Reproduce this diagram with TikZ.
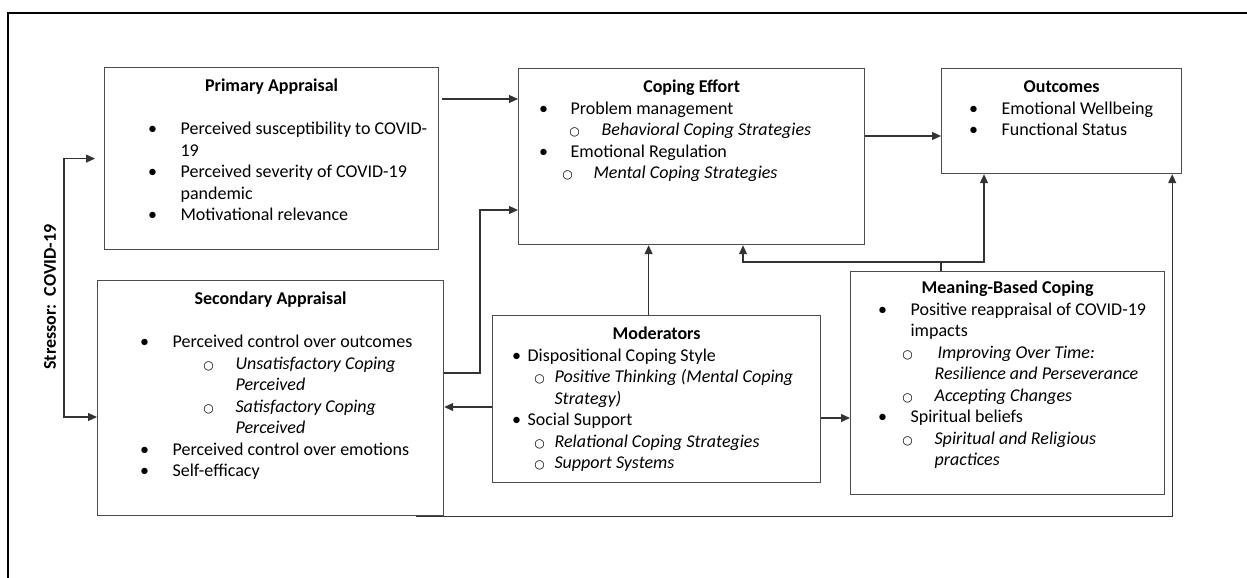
\documentclass[tikz,border=0pt]{standalone}
\usepackage{fontspec}
\setmainfont{Carlito}
\newfontfamily\symfont{DejaVu Sans}
\usetikzlibrary{arrows.meta,calc}

\newdimen\pxu \pxu=0.5pt
\newcommand{\boxcontent}[3]{\parbox[t][#2\pxu][t]{#1\pxu}{\baselineskip=21.5\pxu\lineskiplimit=-30pt\lineskip=0pt\parindent=0pt #3}}
\newcommand{\ttl}[2][24]{\makebox[\linewidth]{\rule{0pt}{#1\pxu}\bfseries #2}\par}
\newcommand{\blankline}{\mbox{}\par}
\newcommand{\opendot}{{\symfont\fontsize{6}{6}\selectfont ○}}
\newcommand{\bitem}[3]{\hspace*{#1\pxu}\makebox[0pt]{\textbullet}\hspace*{\dimexpr#2\pxu-#1\pxu\relax}#3\par}
\newcommand{\citem}[3]{\hspace*{#1\pxu}\makebox[0pt]{\opendot}\hspace*{\dimexpr#2\pxu-#1\pxu\relax}\textit{#3}\par}
\newcommand{\cont}[2]{\hspace*{#1\pxu}#2\par}

\begin{document}
\begin{tikzpicture}[x=0.5pt, y=-0.5pt,
		font=\fontsize{9}{10.75}\selectfont,
		panel/.style={draw=black!70, line width=0.6pt, inner sep=0pt, anchor=north west},
		arr/.style={-{Triangle[length=4.5pt,width=4pt]}, draw=black!80, line width=0.55pt},
		link/.style={draw=black!80, line width=0.55pt}]
	\useasboundingbox (0,0) rectangle (1247,578);
	\draw[line width=1pt] (8,578) -- (8,13) -- (1247,13);

	\node[panel] (prim) at (104,67) {\boxcontent{334}{182}{%
		\ttl{Primary Appraisal}
		\blankline
		\bitem{48}{76}{Perceived susceptibility to COVID-}
		\cont{76}{19}
		\bitem{48}{76}{Perceived severity of COVID-19}
		\cont{76}{pandemic}
		\bitem{48}{76}{Motivational relevance}}};
	\node[panel] (sec) at (97,280) {\boxcontent{346}{235}{%
		\ttl{Secondary Appraisal}
		\blankline
		\bitem{47}{75}{Perceived control over outcomes}
		\citem{111}{138}{Unsatisfactory Coping}
		\cont{138}{\textit{Perceived}}
		\citem{111}{138}{Satisfactory Coping}
		\cont{138}{\textit{Perceived}}
		\bitem{47}{75}{Perceived control over emotions}
		\bitem{47}{75}{Self-efficacy}}};
	\node[panel] (cope) at (518,68) {\boxcontent{346}{176}{%
		\ttl{Coping Effort}
		\bitem{25}{52}{Problem management}
		\citem{56}{83}{Behavioral Coping Strategies}
		\bitem{25}{52}{Emotional Regulation}
		\citem{49}{75}{Mental Coping Strategies}}};
	\node[panel] (outc) at (941,68) {\boxcontent{240}{105}{%
		\ttl{Outcomes}
		\bitem{32}{60}{Emotional Wellbeing}
		\bitem{32}{60}{Functional Status}}};
	\node[panel] (mod) at (492,315) {\boxcontent{328}{167}{%
		\ttl{Moderators}
		\bitem{24}{35}{Dispositional Coping Style}
		\citem{47}{62}{Positive Thinking (Mental Coping}
		\cont{62}{\textit{Strategy)}}
		\bitem{24}{35}{Social Support}
		\citem{47}{62}{Relational Coping Strategies}
		\citem{47}{62}{Support Systems}}};
	\node[panel] (mean) at (850,271) {\boxcontent{314}{223}{%
		\ttl[22]{Meaning-Based Coping}
		\bitem{32}{60}{Positive reappraisal of COVID-19}
		\cont{60}{impacts}
		\citem{57}{87}{Improving Over Time:}
		\cont{84}{\textit{Resilience and Perseverance}}
		\citem{57}{84}{Accepting Changes}
		\bitem{32}{60}{Spiritual beliefs}
		\citem{57}{84}{Spiritual and Religious}
		\cont{84}{\textit{practices}}}};

	\node[rotate=90, font=\fontsize{9}{10.75}\selectfont\bfseries] (stress) at (50,297) {Stressor:\ \ COVID-19};
	\coordinate (sbot) at (64,417);
	\draw[arr, {Triangle[length=4.5pt,width=4pt]}-{Triangle[length=4.5pt,width=4pt]}, shorten <=4.5pt] (prim.west) -| (sbot) -- (sec.west |- sbot);

	\draw[arr] ($(prim.north east)+(3,32)$) -- ($(cope.north west)+(0,31)$);
	\draw[arr] ($(sec.north east)+(0,93)$) -| ($(cope.north west)+(-38,142)$) -- ($(cope.north west)+(0,142)$);
	\draw[arr] ($(mod.north)+(-8,0)$) -- ($(cope.south)+(-43,0)$);
	\draw[arr] ($(mod.north west)+(0,92)$) -- ($(sec.north east)+(0,127)$);
	\draw[arr] ($(mod.north east)+(0,103)$) -- ($(mean.north west)+(0,147)$);
	\draw[arr] ($(cope.north east)+(0,68)$) -- ($(outc.north west)+(0,68)$);
	\coordinate (mj) at ($(mean.north west)+(91,-9)$);
	\draw[link] ($(mean.north west)+(91,0)$) -- (mj);
	\draw[arr] (mj) -| ($(cope.south west)+(225,0)$);
	\draw[arr] (mj) -| ($(outc.south west)+(43,0)$);
	\draw[arr] ($(sec.south east)+(-28,0)$) -| ($(outc.south east)+(-10,0)$);
\end{tikzpicture}
\end{document}
